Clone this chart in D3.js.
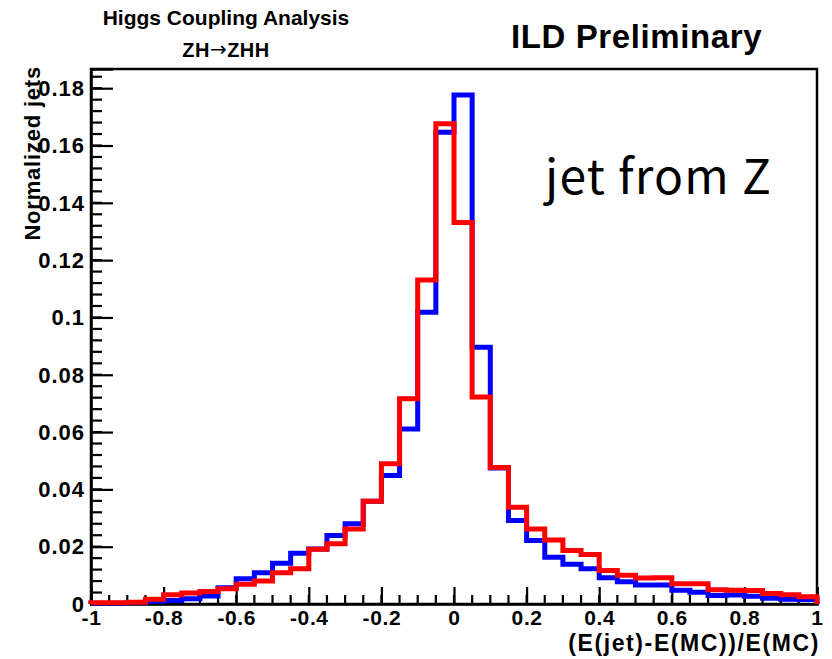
<!DOCTYPE html>
<html>
<head>
<meta charset="utf-8">
<script src="https://cdn.jsdelivr.net/npm/d3@7/dist/d3.min.js"></script>
<style>
  html, body { margin: 0; padding: 0; background: #fff; }
  svg { display: block; }
  .bold { font-family: "Liberation Sans", Arial, Helvetica, sans-serif; font-weight: bold; }
</style>
</head>
<body>
<svg id="chart" width="832" height="659"></svg>
<script>
// Histogram binning: 40 bins of width 0.05 on [-1, 1]
const binEdges = d3.range(41).map(i => -1 + i * 0.05);

// Normalized jet energy resolution, jet from Z (two reconstructions)
const blueValues = [
  0.0003, 0.0003, 0.0005, 0.0010, 0.0012, 0.0018, 0.0028, 0.0057, 0.0088, 0.0109,
  0.0142, 0.0177, 0.0192, 0.0239, 0.0280, 0.0359, 0.0448, 0.0611, 0.1018, 0.1646,
  0.1776, 0.0896, 0.0475, 0.0291, 0.0222, 0.0163, 0.0139, 0.0123, 0.0092, 0.0078,
  0.0066, 0.0066, 0.0048, 0.0041, 0.0030, 0.0031, 0.0027, 0.0020, 0.0017, 0.0016
];
const redValues = [
  0.0004, 0.0004, 0.0006, 0.0017, 0.0032, 0.0038, 0.0044, 0.0053, 0.0069, 0.0080,
  0.0109, 0.0123, 0.0191, 0.0210, 0.0262, 0.0359, 0.0489, 0.0716, 0.1131, 0.1676,
  0.1331, 0.0722, 0.0476, 0.0338, 0.0262, 0.0223, 0.0187, 0.0173, 0.0117, 0.0100,
  0.0091, 0.0092, 0.0071, 0.0071, 0.0050, 0.0048, 0.0047, 0.0037, 0.0032, 0.0025
];

const xTickValues = [-1, -0.8, -0.6, -0.4, -0.2, 0, 0.2, 0.4, 0.6, 0.8, 1];
const yTickValues = [0, 0.02, 0.04, 0.06, 0.08, 0.1, 0.12, 0.14, 0.16, 0.18];
const xMinorValues = d3.range(41).map(i => -1 + i * 0.05);
const yMinorValues = d3.range(47).map(i => i * 0.004);

const titleLine1 = "Higgs Coupling Analysis";
const titleLine2 = ["ZH", "\u2192", "ZHH"];
const labelTag = "ILD Preliminary";
const noteText = "jet from Z";
const xTitle = "(E(jet)-E(MC))/E(MC)";
const yTitle = "Normalized jets";

const svg = d3.select("#chart");
const frame = { left: 91, right: 817, top: 69, bottom: 604 };

const x = d3.scaleLinear().domain([-1, 1]).range([frame.left, frame.right]);
const y = d3.scaleLinear().domain([0, 0.1867]).range([frame.bottom, frame.top]);

// Step outline of one histogram, closed down to zero at both ends
function stepPoints(values) {
  const pts = [[binEdges[0], 0]];
  values.forEach((v, i) => pts.push([binEdges[i], v]));
  pts.push([binEdges[40], values[values.length - 1]]);
  pts.push([binEdges[40], 0]);
  return pts;
}
const stepLine = d3.line()
  .x(d => x(d[0]))
  .y(d => y(d[1]))
  .curve(d3.curveStepAfter);

// Frame
svg.append("rect")
  .attr("x", frame.left).attr("y", frame.top)
  .attr("width", frame.right - frame.left)
  .attr("height", frame.bottom - frame.top)
  .attr("fill", "none").attr("stroke", "#000").attr("stroke-width", 2.5);

// Axes: major ticks through d3 axes, minor ticks drawn as short lines
const xAxis = d3.axisBottom(x).tickValues(xTickValues).tickSize(-17).tickPadding(6)
  .tickFormat(d => String(+d.toFixed(1)));
const gx = svg.append("g").attr("transform", `translate(0,${frame.bottom})`).call(xAxis);
gx.select(".domain").attr("stroke-width", 2.5);
gx.selectAll(".tick line").attr("stroke-width", 2.2);
gx.selectAll(".tick text").attr("class", "bold").attr("font-size", 21)
  .attr("letter-spacing", 0.6).attr("fill", "#000");

svg.append("g").selectAll("line").data(xMinorValues).join("line")
  .attr("x1", d => x(d)).attr("x2", d => x(d))
  .attr("y1", frame.bottom).attr("y2", frame.bottom - 9)
  .attr("stroke", "#000").attr("stroke-width", 2.2);

const yAxis = d3.axisLeft(y).tickValues(yTickValues).tickSize(-22).tickPadding(6)
  .tickFormat(d => d === 0 ? "0" : String(+d.toFixed(2)));
const gy = svg.append("g").attr("transform", `translate(${frame.left},0)`).call(yAxis);
gy.select(".domain").attr("stroke-width", 2.5);
gy.selectAll(".tick line").attr("stroke-width", 2.2);
gy.selectAll(".tick text").attr("class", "bold").attr("font-size", 22)
  .attr("letter-spacing", 1).attr("fill", "#000").attr("dy", "0.33em");

svg.append("g").selectAll("line").data(yMinorValues).join("line")
  .attr("x1", frame.left).attr("x2", frame.left + 11)
  .attr("y1", d => y(d)).attr("y2", d => y(d))
  .attr("stroke", "#000").attr("stroke-width", 2.2);

// Histograms: blue first, red over it
[["#0000ff", blueValues], ["#ff0000", redValues]].forEach(([color, vals]) => {
  svg.append("path")
    .attr("d", stepLine(stepPoints(vals)))
    .attr("fill", "none")
    .attr("stroke", color)
    .attr("stroke-width", 5)
    .attr("stroke-linejoin", "miter");
});

// Texts
svg.append("text").attr("class", "bold").attr("x", 226).attr("y", 25)
  .attr("text-anchor", "middle").attr("font-size", 21).text(titleLine1);
const t2 = svg.append("text").attr("class", "bold").attr("x", 226).attr("y", 57)
  .attr("text-anchor", "middle").attr("font-size", 20).attr("letter-spacing", 0.5);
t2.append("tspan").text(titleLine2[0]);
t2.append("tspan").attr("font-family", "'DejaVu Sans', sans-serif").attr("font-weight", "normal")
  .attr("font-size", 20).attr("dy", -1).text(titleLine2[1]);
t2.append("tspan").attr("dy", 1).text(titleLine2[2]);
svg.append("text").attr("class", "bold").attr("x", 511).attr("y", 48)
  .attr("font-size", 33).attr("letter-spacing", 0.6).text(labelTag);
svg.append("text").attr("x", 545).attr("y", 194)
  .attr("font-family", "'Noto Sans CJK JP', 'Noto Sans', sans-serif")
  .attr("font-size", 48).attr("letter-spacing", 1.2).attr("fill", "#000").text(noteText);
svg.append("text").attr("class", "bold").attr("x", 820).attr("y", 651)
  .attr("text-anchor", "end").attr("font-size", 23).attr("letter-spacing", 1.6).text(xTitle);
svg.append("text").attr("class", "bold")
  .attr("transform", "translate(40,66) rotate(-90)")
  .attr("text-anchor", "end").attr("font-size", 22).attr("letter-spacing", 0.8).text(yTitle);
</script>
</body>
</html>
